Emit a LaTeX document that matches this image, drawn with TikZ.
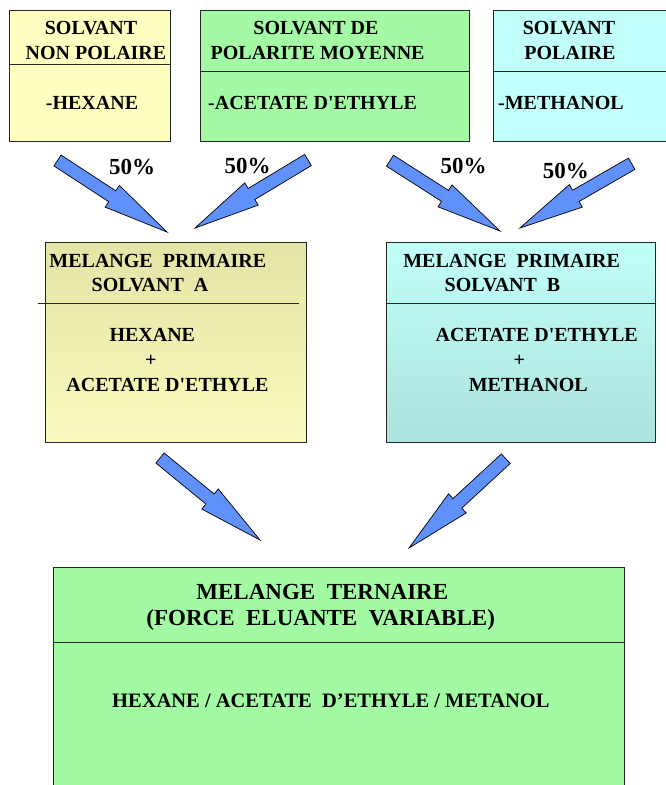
\documentclass[tikz,border=0pt]{standalone}
\usepackage{fontspec}
\setmainfont{Liberation Serif}
\usetikzlibrary{calc}
\definecolor{arrowblue}{RGB}{96,145,250}
\definecolor{yel}{RGB}{255,255,192}
\definecolor{grn}{RGB}{164,250,164}
\definecolor{cyn}{RGB}{192,255,250}
\definecolor{atop}{RGB}{228,228,166}
\definecolor{abot}{RGB}{250,250,190}
\definecolor{btop}{RGB}{192,255,248}
\definecolor{bbot}{RGB}{172,226,220}
\definecolor{tgrn}{RGB}{162,250,162}
\newcommand{\myblockarrow}[2]{%
 \coordinate (#1m) at ($(#1)!0.5!(#2)$);
 \draw[barrowstyle] ($(#1)!6.5pt!90:(#2)$) -- ($(#1m)!6.5pt!90:(#2)$) -- ($(#1m)!13pt!90:(#2)$) -- (#2) -- ($(#1m)!13pt!-90:(#2)$) -- ($(#1m)!6.5pt!-90:(#2)$) -- ($(#1)!6.5pt!-90:(#2)$) -- cycle;}
\tikzset{
 box/.style={draw=black!85, line width=0.8pt, anchor=north west, inner sep=0pt, outer sep=0pt},
 divline/.style={draw=black!85, line width=0.8pt},
 barrowstyle/.style={fill=arrowblue, draw=black, line width=0.7pt, line join=miter},
 txt/.style={font=\fontsize{20}{24}\selectfont\bfseries, inner sep=0pt, anchor=base},
 txtl/.style={txt, anchor=base west},
 pct/.style={font=\fontsize{23}{26}\selectfont\bfseries, inner sep=0pt, anchor=base},
 big/.style={font=\fontsize{23}{27}\selectfont\bfseries, inner sep=0pt, anchor=base},
 mid/.style={font=\fontsize{20.5}{24}\selectfont\bfseries, inner sep=0pt, anchor=base}
}
\begin{document}
\begin{tikzpicture}[x=1pt,y=-1pt]
\useasboundingbox (0,0) rectangle (666,785);
\clip (0,0) rectangle (666,785);
% top boxes
\node[box, fill=yel, minimum width=161.5pt, minimum height=131pt] (s1) at (9.3,10.7) {};
\node[box, fill=grn, minimum width=269pt, minimum height=131pt] (s2) at (200.5,10.7) {};
\node[box, fill=cyn, minimum width=200pt, minimum height=131pt] (s3) at (493.6,10.7) {};
\draw[divline] ($(s1.north west)+(0,53.3)$) -- ($(s1.north east)+(0,53.3)$);
\draw[divline] ($(s2.north west)+(0,61)$) -- ($(s2.north east)+(0,61)$);
\draw[divline] ($(s3.north west)+(0,61)$) -- ($(s3.north east)+(0,61)$);
\node[txt] (s1a) at (91,34.6) {SOLVANT};
\node[txt] (s1b) at (96,59.6) {NON POLAIRE};
\node[txt] (s1c) at (92,109.6) {-HEXANE};
\node[txt] (s2a) at (316,34.6) {SOLVANT DE};
\node[txt] (s2b) at (317.6,59.6) {POLARITE MOYENNE};
\node[txtl] (s2c) at (208,109.6) {-ACETATE D\textquotesingle ETHYLE};
\node[txt] (s3a) at (569,34.6) {SOLVANT};
\node[txt] (s3b) at (570,59.6) {POLAIRE};
\node[txtl] (s3c) at (498,109.6) {-METHANOL};
% middle boxes
\node[box, top color=atop, bottom color=abot, minimum width=261.7pt, minimum height=200.4pt] (ma) at (45,242.3) {};
\draw[divline] ($(ma.north west)+(-6.7,61)$) -- ($(ma.north east)+(-7.4,61)$);
\node[box, top color=btop, bottom color=bbot, minimum width=269pt, minimum height=200pt] (mb) at (386,242.7) {};
\draw[divline] ($(mb.north west)+(0,60.6)$) -- ($(mb.north east)+(0,60.6)$);
\node[txt] (maa) at (157.8,267.3) {MELANGE\ \ PRIMAIRE};
\node[txt] (mab) at (150,291.6) {SOLVANT\ \ A};
\node[txt] (mac) at (152.3,341.6) {HEXANE};
\node[txt] (mad) at (150.7,366.7) {+};
\node[txt] (mae) at (167.5,391.6) {ACETATE D\textquotesingle ETHYLE};
\node[txt] (mba) at (511.7,267.3) {MELANGE\ \ PRIMAIRE};
\node[txt] (mbb) at (502.5,291.6) {SOLVANT\ \ B};
\node[txt] (mbc) at (536.7,341.6) {ACETATE D\textquotesingle ETHYLE};
\node[txt] (mbd) at (519.3,366.7) {+};
\node[txt] (mbe) at (528.3,391.6) {METHANOL};
% bottom box
\node[box, fill=tgrn, minimum width=571pt, minimum height=300pt] (mt) at (53.4,567) {};
\draw[divline] ($(mt.north west)+(0,75.7)$) -- ($(mt.north east)+(0,75.7)$);
\node[big] (mta) at (322.3,599.3) {MELANGE\ \ TERNAIRE};
\node[big] (mtb) at (320.7,625.9) {(FORCE\ \ ELUANTE\ \ VARIABLE)};
\node[mid] (mtc) at (330.9,707.8) {HEXANE / ACETATE\ \ D’ETHYLE / METANOL};
% arrows
\coordinate (t1) at (57.5,160.5); \coordinate (p1) at (167,232);
\coordinate (t2) at (308,160);   \coordinate (p2) at (195,228);
\coordinate (t3) at (390,160.7); \coordinate (p3) at (500,231);
\coordinate (t4) at (631.7,163.7); \coordinate (p4) at (520,228);
\coordinate (t5) at (160,458);   \coordinate (p5) at (260,540);
\coordinate (t6) at (505.8,458.7); \coordinate (p6) at (409,548);
\myblockarrow{t1}{p1}
\myblockarrow{t2}{p2}
\myblockarrow{t3}{p3}
\myblockarrow{t4}{p4}
\myblockarrow{t5}{p5}
\myblockarrow{t6}{p6}
\node[pct] (l1) at (132,174.3) {50\%};
\node[pct] (l2) at (247.5,173.3) {50\%};
\node[pct] (l3) at (463.5,173.3) {50\%};
\node[pct] (l4) at (565.8,178.3) {50\%};
\end{tikzpicture}
\end{document}
